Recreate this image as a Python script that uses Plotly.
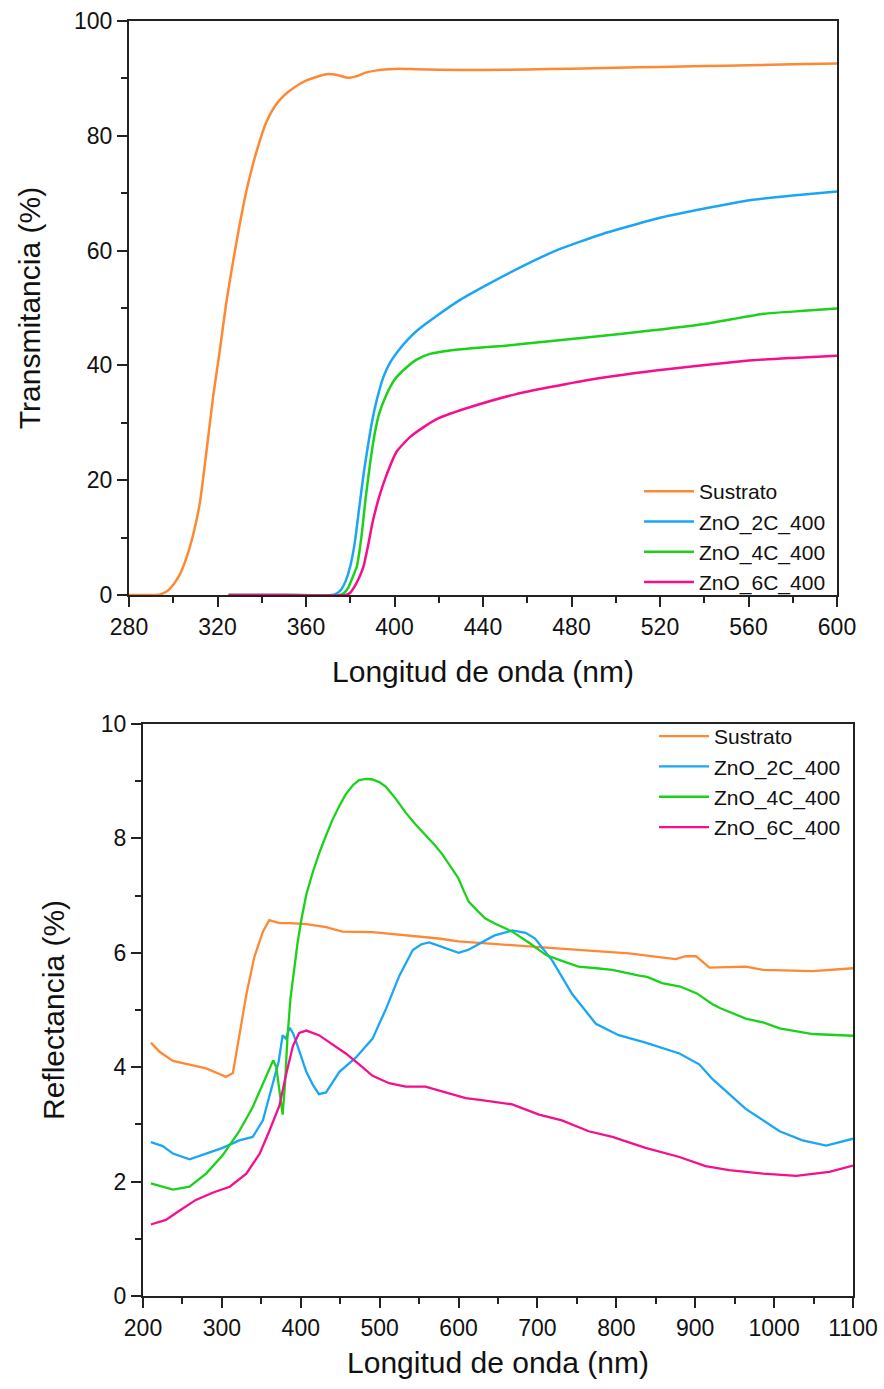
import plotly.graph_objects as go

# ---------------- Transmitance data (top) ----------------
t_sus_x = [280, 285, 290, 294, 297, 300, 303, 306, 309, 312, 315, 318, 321, 324, 327, 330, 333, 336, 339, 342,
           346, 350, 355, 360, 365, 370, 375, 379, 383, 387, 392, 397, 402, 410, 420, 440, 460, 480, 500, 520,
           540, 560, 580, 600]
t_sus_y = [0, 0, 0, 0.1, 0.6, 1.8, 3.6, 6.5, 10.5, 16, 25, 34.5, 42.5, 51, 58, 64.5, 70.3, 75, 79, 82.3,
           85.2, 87.0, 88.5, 89.6, 90.3, 90.75, 90.5, 90.1, 90.4, 91.0, 91.4, 91.6, 91.7, 91.6, 91.5, 91.45, 91.55, 91.7, 91.85, 92.0,
           92.15, 92.3, 92.45, 92.6]

t_2c_x = [325, 350, 372, 374, 376, 378, 380, 382, 384, 386, 388, 390, 392, 395, 398, 402, 406, 410, 419, 430,
          443, 458, 473, 494, 521, 559, 580, 600]
t_2c_y = [0, 0, 0, 0.3, 1.0, 2.5, 5, 9, 15, 21, 26, 30.5, 34, 38, 40.5, 42.7, 44.5, 46, 48.6, 51.5,
          54.3, 57.3, 60, 62.9, 65.8, 68.7, 69.6, 70.3]

t_4c_x = [325, 350, 375, 377, 379, 381, 383, 385, 387, 389, 391, 393, 396, 400, 405, 410, 416, 425, 435, 449,
          470, 503, 540, 567, 585, 600]
t_4c_y = [0, 0, 0, 0.3, 1.2, 3, 5, 10, 17, 23, 28, 31.5, 34.6, 37.5, 39.5, 41, 42, 42.6, 43, 43.4,
          44.2, 45.5, 47.2, 49, 49.5, 49.9]

t_6c_x = [325, 350, 378, 380, 382, 384, 386, 388, 390, 393, 396, 401, 407, 413, 420, 434, 455, 485, 518, 559,
          580, 600]
t_6c_y = [0, 0, 0, 0.4, 1.5, 3.0, 5.0, 8.5, 12.5, 17, 20.5, 25, 27.5, 29.2, 30.8, 32.7, 35, 37.3, 39.1, 40.8,
          41.3, 41.7]

# ---------------- Reflectance data (bottom) ----------------
r_sus_x = [210, 221, 238, 259, 280, 297, 305, 314, 322, 331, 341, 352, 360, 366, 373, 386, 407, 432, 453, 491,
           533, 575, 600, 651, 689, 752, 816, 875, 888, 901, 918, 964, 986, 1049, 1100]
r_sus_y = [4.43, 4.27, 4.11, 4.05, 3.98, 3.88, 3.83, 3.9, 4.56, 5.27, 5.92, 6.37, 6.57, 6.55, 6.52, 6.52, 6.5, 6.45, 6.37, 6.36,
           6.3, 6.25, 6.2, 6.15, 6.1, 6.05, 5.99, 5.89, 5.94, 5.94, 5.74, 5.76, 5.7, 5.68, 5.73]

r_2c_x = [210, 225, 238, 259, 280, 301, 322, 339, 352, 364, 372, 377, 381, 386, 390, 394, 400, 407, 415, 423,
          432, 449, 470, 491, 508, 525, 542, 553, 563, 575, 584, 600, 612, 625, 645, 668, 685, 697, 719, 744,
          774, 803, 837, 880, 905, 922, 964, 1007, 1036, 1066, 1100]
r_2c_y = [2.69, 2.62, 2.49, 2.39, 2.49, 2.59, 2.72, 2.78, 3.07, 3.66, 4.1, 4.56, 4.5, 4.69, 4.6, 4.45, 4.2, 3.92, 3.7, 3.53,
          3.56, 3.92, 4.17, 4.5, 5.02, 5.6, 6.05, 6.15, 6.18, 6.12, 6.08, 6.0, 6.05, 6.15, 6.3, 6.39, 6.35, 6.25, 5.86, 5.28,
          4.76, 4.56, 4.43, 4.24, 4.05, 3.79, 3.27, 2.88, 2.72, 2.63, 2.75]

r_4c_x = [210, 225, 238, 259, 280, 301, 322, 339, 352, 360, 365, 369, 373, 377, 380, 383, 387, 392, 396, 401,
          407, 415, 423, 432, 440, 449, 457, 466, 474, 483, 491, 500, 508, 520, 533, 545, 558, 570, 579, 590,
          600, 606, 613, 625, 634, 648, 668, 689, 711, 731, 752, 775, 795, 829, 839, 858, 881, 902, 922, 932,
          964, 987, 1007, 1049, 1092, 1100]
r_4c_y = [1.97, 1.91, 1.86, 1.91, 2.14, 2.46, 2.88, 3.3, 3.72, 3.98, 4.12, 4.0, 3.6, 3.17, 3.7, 4.5, 5.21, 5.8, 6.18, 6.6,
          7.02, 7.4, 7.73, 8.05, 8.32, 8.57, 8.77, 8.93, 9.02, 9.04, 9.03, 8.98, 8.9, 8.7, 8.45, 8.25, 8.06, 7.88, 7.73, 7.5,
          7.3, 7.1, 6.89, 6.72, 6.6, 6.5, 6.37, 6.18, 5.96, 5.86, 5.76, 5.73, 5.7, 5.6, 5.58, 5.47, 5.41, 5.29, 5.1, 5.03,
          4.85, 4.78, 4.68, 4.58, 4.56, 4.55]

r_6c_x = [210, 229, 246, 267, 289, 310, 331, 348, 360, 373, 381, 390, 398, 407, 423, 440, 457, 474, 491, 512,
          533, 558, 584, 609, 627, 651, 668, 702, 731, 765, 795, 837, 880, 913, 943, 986, 1028, 1070, 1100]
r_6c_y = [1.25, 1.33, 1.49, 1.68, 1.81, 1.91, 2.14, 2.49, 2.88, 3.33, 3.85, 4.37, 4.6, 4.64, 4.56, 4.4, 4.24, 4.05, 3.85, 3.72,
          3.66, 3.66, 3.56, 3.46, 3.43, 3.38, 3.35, 3.17, 3.07, 2.88, 2.78, 2.59, 2.43, 2.27, 2.2, 2.14, 2.1, 2.17, 2.28]

names = ["Sustrato", "ZnO_2C_400", "ZnO_4C_400", "ZnO_6C_400"]
colors = ["#FF8833", "#1AA6F5", "#19D219", "#F50F8C"]

top_series = [(t_sus_x, t_sus_y), (t_2c_x, t_2c_y), (t_4c_x, t_4c_y), (t_6c_x, t_6c_y)]
bot_series = [(r_sus_x, r_sus_y), (r_2c_x, r_2c_y), (r_4c_x, r_4c_y), (r_6c_x, r_6c_y)]

FONT = "Arial, 'Liberation Sans', sans-serif"

fig = go.Figure()
for (x, y), n, c in zip(top_series, names, colors):
    fig.add_trace(go.Scatter(x=x, y=y, mode="lines", name=n, line=dict(color=c, width=2.5, shape="spline", smoothing=0.5),
                             xaxis="x", yaxis="y", legend="legend"))
for (x, y), n, c in zip(bot_series, names, colors):
    fig.add_trace(go.Scatter(x=x, y=y, mode="lines", name=n, line=dict(color=c, width=2.3),
                             xaxis="x2", yaxis="y2", legend="legend2"))

W, H = 884, 1389


def ax_common():
    return dict(showline=True, linecolor="#222", linewidth=2, mirror=True, ticks="outside",
                ticklen=10, tickwidth=1.8, tickcolor="#222", showgrid=False, zeroline=False,
                automargin=False,
                tickfont=dict(family=FONT, size=23, color="#111"),
                title_font=dict(family=FONT, size=30, color="#111"))


xa1 = ax_common()
xa1.update(domain=[129 / W, 837 / W], range=[280, 600], tick0=280, dtick=40, anchor="y",
           title=dict(text="Longitud de onda (nm)", standoff=22),
           minor=dict(dtick=20, tick0=280, ticklen=6, tickwidth=1.5, tickcolor="#222", ticks="outside"))
ya1 = ax_common()
ya1.update(domain=[1 - 595 / H, 1 - 21 / H], range=[0, 100], tick0=0, dtick=20, anchor="x",
           title=dict(text="Transmitancia (%)", standoff=25),
           minor=dict(dtick=10, tick0=0, ticklen=6, tickwidth=1.5, tickcolor="#222", ticks="outside"))
xa2 = ax_common()
xa2.update(domain=[143 / W, 853 / W], range=[200, 1100], tick0=200, dtick=100, anchor="y2",
           title=dict(text="Longitud de onda (nm)", standoff=12),
           minor=dict(dtick=50, tick0=200, ticklen=6, tickwidth=1.5, tickcolor="#222", ticks="outside"))
ya2 = ax_common()
ya2.update(domain=[1 - 1296 / H, 1 - 724 / H], range=[0, 10], tick0=0, dtick=2, anchor="x2",
           title=dict(text="Reflectancia (%)", standoff=27),
           minor=dict(dtick=1, tick0=0, ticklen=6, tickwidth=1.5, tickcolor="#222", ticks="outside"))

fig.update_layout(
    width=W, height=H,
    margin=dict(l=0, r=0, t=0, b=0, autoexpand=False),
    paper_bgcolor="white", plot_bgcolor="white",
    xaxis=xa1, yaxis=ya1, xaxis2=xa2, yaxis2=ya2,
    showlegend=True,
    legend=dict(x=639 / W, y=1 - 471 / H, xanchor="left", yanchor="top", bgcolor="rgba(0,0,0,0)",
                font=dict(family=FONT, size=21, color="#111"), tracegroupgap=0, itemwidth=50),
    legend2=dict(x=654 / W, y=1 - 716 / H, xanchor="left", yanchor="top", bgcolor="rgba(0,0,0,0)",
                 font=dict(family=FONT, size=21, color="#111"), tracegroupgap=0, itemwidth=50),
)

fig.write_html("out.html")
